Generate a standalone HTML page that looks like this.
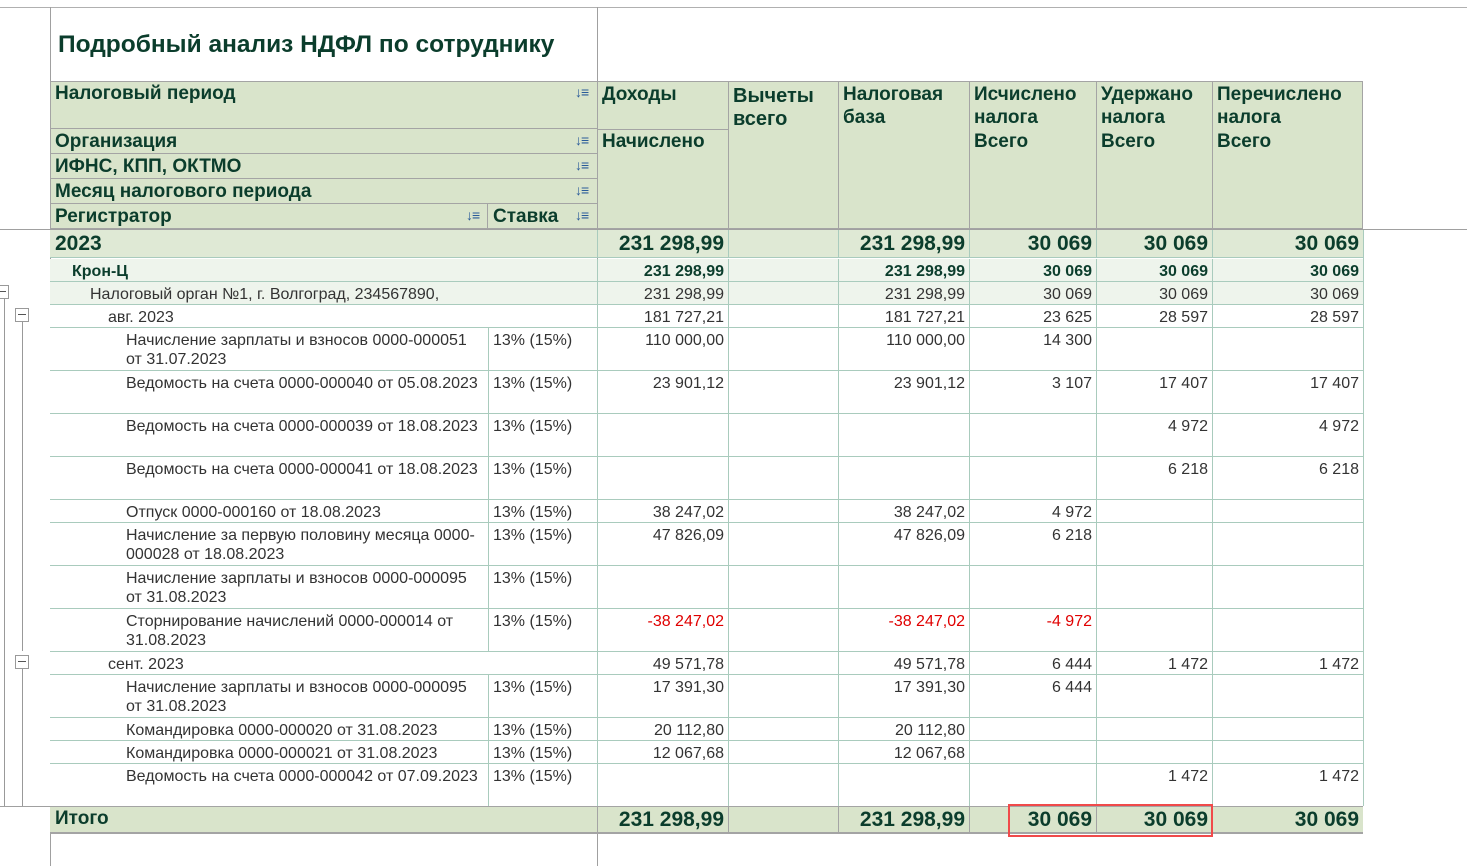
<!DOCTYPE html>
<html><head><meta charset="utf-8">
<style>
body{margin:0;width:1467px;height:866px;background:#fff;position:relative;overflow:hidden;font-family:"Liberation Sans",Arial,sans-serif;}
.a{position:absolute;box-sizing:border-box;}
.h{color:#0b3d2c;font-weight:bold;font-size:19px;padding:2px 5px;white-space:nowrap;line-height:22px;}
.c{font-size:16px;color:#333;line-height:19px;padding:3px 4px;overflow:hidden;}
.r{text-align:right;}
.sort{position:absolute;font-size:14px;color:#2a5b9a;font-weight:bold;letter-spacing:-1px;}
</style></head><body>
<div id="root"></div>
<script>
// column edges
const X=[50,488,597,728,838,969,1096,1212,1363];
// body rows
const labels=["2023","Крон-Ц","Налоговый орган №1, г. Волгоград, 234567890,","авг. 2023",
"Начисление зарплаты и взносов 0000-000051 от 31.07.2023","Ведомость на счета 0000-000040 от 05.08.2023","Ведомость на счета 0000-000039 от 18.08.2023","Ведомость на счета 0000-000041 от 18.08.2023","Отпуск 0000-000160 от 18.08.2023","Начисление за первую половину месяца 0000-000028 от 18.08.2023","Начисление зарплаты и взносов 0000-000095 от 31.08.2023","Сторнирование начислений 0000-000014 от 31.08.2023",
"сент. 2023","Начисление зарплаты и взносов 0000-000095 от 31.08.2023","Командировка 0000-000020 от 31.08.2023","Командировка 0000-000021 от 31.08.2023","Ведомость на счета 0000-000042 от 07.09.2023"];
const levels=[0,1,2,3,4,4,4,4,4,4,4,4,3,4,4,4,4];
const heights=[29,23,23,23,43,43,43,43,23,43,43,43,23,43,23,23,43];
const income=["231 298,99","231 298,99","231 298,99","181 727,21","110 000,00","23 901,12","","","38 247,02","47 826,09","","-38 247,02","49 571,78","17 391,30","20 112,80","12 067,68",""];
const taxBase=income.slice();
const calculated=["30 069","30 069","30 069","23 625","14 300","3 107","","","4 972","6 218","","-4 972","6 444","6 444","","",""];
const withheld=["30 069","30 069","30 069","28 597","","17 407","4 972","6 218","","","","","1 472","","","","1 472"];
const transferred=withheld.slice();
const totals=["231 298,99","","231 298,99","30 069","30 069","30 069"];

const root=document.getElementById('root');
function div(cls,x,y,w,h,txt,style,name,inter){
  const d=document.createElement('div');
  d.className='a '+cls;
  d.style.left=x+'px';d.style.top=y+'px';d.style.width=w+'px';d.style.height=h+'px';
  if(style)d.style.cssText+=style;
  if(txt!==undefined)d.textContent=txt;
  
  
  root.appendChild(d);return d;
}
const G='#d9e4cb',HL='#a4a4a4',BL='#a9cbbd';
div('',0,7,1467,1,undefined,'background:#b0b0b0','top-border');
div('',50,7,1,859,undefined,'background:#a0a0a0','left-border');
div('',597,7,1,859,undefined,'background:#a0a0a0','divider');
div('h',52,28,545,34,'Подробный анализ НДФЛ по сотруднику','font-size:24.5px;line-height:34px;padding:0 6px','report-title');
div('',50,81,1313,148,undefined,'background:'+G+';border:1px solid '+HL,'header');
[[81,48,'Налоговый период'],[129,25,'Организация'],[154,25,'ИФНС, КПП, ОКТМО'],[179,25,'Месяц налогового периода']].forEach((r,i)=>{
  div('h',50,r[0],547,r[1],r[2],'border-bottom:1px solid '+HL,'header-'+i,true);
  div('sort',575,r[0]+3,22,18,'↓≡',undefined,'sort-icon',true);
});
div('h',50,204,438,25,'Регистратор','border-right:1px solid '+HL,'header-registrar',true);
div('sort',466,207,22,18,'↓≡',undefined,'sort-icon',true);
div('h',488,204,109,25,'Ставка',undefined,'header-rate',true);
div('sort',575,207,22,18,'↓≡',undefined,'sort-icon',true);
const hdr=[['Доходы','Начислено'],['Вычеты<br>всего',''],['Налоговая<br>база',''],['Исчислено<br>налога','Всего'],['Удержано<br>налога','Всего'],['Перечислено<br>налога','Всего']];
hdr.forEach((t,i)=>{
  const x=X[i+2],w=X[i+3]-x;
  div('',x,81,1,148,undefined,'background:'+HL,'col-divider');
  const d=div('h',x,81,w,48,undefined,'white-space:normal;font-size:19px;line-height:23px;'+(i==1?'font-size:20px;padding-top:4px':''),'column-header-'+i,true);
  d.innerHTML=t[0];
  if(i==0)div('',x,129,w,1,undefined,'background:'+HL,'sub-line');
  if(t[1])div('h',x,129,w,25,t[1],undefined,'column-subheader-'+i);
});
div('',0,229,1467,1,undefined,'background:#a0a0a0','header-bottom');
let y=230;
const bgs=['#dfe9d5','#eef4ec','#eef4ec'];
labels.forEach((lab,i)=>{
  const h=heights[i]-(i==0?1:0),lv=levels[i];
  const bg=bgs[i]||'#fff';
  div('',50,y,1313,h,undefined,'background:'+bg+';border-bottom:1px solid '+BL,'row-'+i);
  let fs=16,fw='normal',col='#333';
  if(i==0){fs=21;fw='bold';col='#0b3d2c';}
  if(i==1){fs=16;fw='bold';col='#0b3d2c';}
  const pad=[5,22,40,58,76][lv];
  const lw=lv==4?438:547;
  div('c',50,y,lw,h,lab,'padding-left:'+pad+'px;padding-right:6px;font-size:'+fs+'px;font-weight:'+fw+';color:'+col+(i==0?';line-height:24px;padding-top:2px':''),'row-label',true);
  if(lv==4){
    div('',488,y,1,h,undefined,'background:'+BL,'rate-divider');
    div('c',488,y,109,h,'13% (15%)','padding-left:5px','rate-cell');
  }
  const vals=[income[i],'',taxBase[i],calculated[i],withheld[i],transferred[i]];
  vals.forEach((v,j)=>{
    const x=X[j+2],w=X[j+3]-x;
    div('',x,y,1,h,undefined,'background:'+BL,'col-divider');
    div('c r',x,y,w,h,v,'font-size:'+fs+'px;font-weight:'+fw+';color:'+(v.startsWith('-')?'#e00000':(i<2?'#0b3d2c':'#333'))+(i==0?';line-height:24px;padding-top:2px':''),'value-cell');
  });
  y+=heights[i];
});
div('',1363,230,1,576,undefined,'background:'+BL,'right-border');
div('',0,806,50,1,undefined,'background:#a0a0a0','tree-bottom');
div('',50,806,1313,28,undefined,'background:'+G+';border-top:1px solid '+HL+';border-bottom:2px solid '+HL,'total-row');
div('h',50,806,547,28,'Итого','line-height:22px','total-label');
totals.forEach((v,j)=>{
  const x=X[j+2],w=X[j+3]-x;
  div('',x,806,1,28,undefined,'background:'+HL,'col-divider');
  div('h r',x,806,w,28,v,'font-size:21px;line-height:26px;padding:1px 4px','total-value');
});
div('',1008,804,205,33,undefined,'border:2px solid #f04a4a','highlight-box');
function box(x,yy,name){div('',x,yy,14,14,'','border:1px solid #999;background:#fff',name,true);div('',x+3,yy+6,8,1,undefined,'background:#555','minus');}
div('',4,298,1,508,undefined,'background:#999','tree-line');
div('',-5,285,14,14,'','border:1px solid #999;background:#fff','collapse-0',true);div('',0,291,6,1,undefined,'background:#555','minus');
box(15,308,'collapse-aug');div('',22,322,1,329,undefined,'background:#999','tree-line');
box(15,655,'collapse-sep');div('',22,669,1,137,undefined,'background:#999','tree-line');
</script>
</body></html>
